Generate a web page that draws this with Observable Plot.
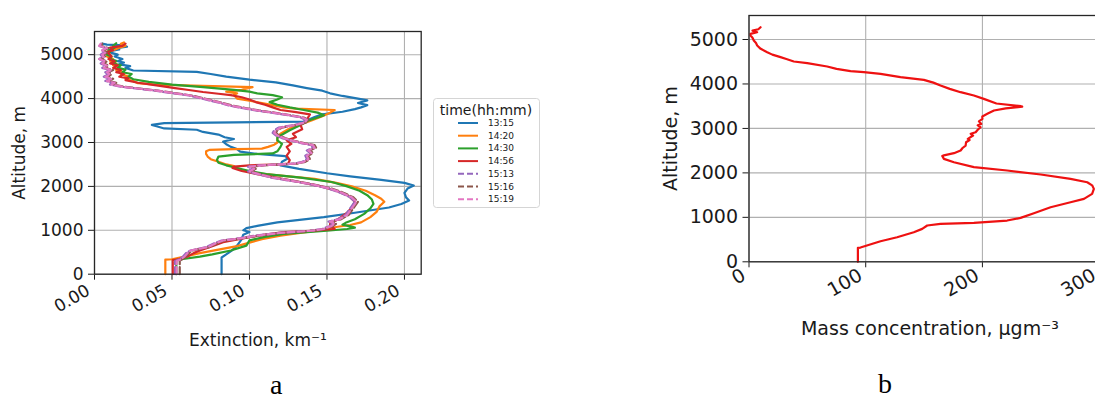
<!DOCTYPE html>
<html>
<head>
<meta charset="utf-8">
<script src="https://cdn.jsdelivr.net/npm/d3@7"></script>
<script src="https://cdn.jsdelivr.net/npm/@observablehq/plot@0.6"></script>
<style>
  html, body { margin: 0; padding: 0; background: #fff; width: 1095px; height: 400px; overflow: hidden; }
  #wrap { position: relative; width: 1095px; height: 400px; overflow: hidden; }
  .panel { position: absolute; top: 0; }
  .panel svg { max-width: none !important; }
  .letter { position: absolute; font-family: "Liberation Serif", "DejaVu Serif", serif; font-size: 28px; color: #000; line-height: 1; }
</style>
</head>
<body>
<div id="wrap">
  <div id="left" class="panel" style="left:0px;width:430px;"></div>
  <div id="legend" style="position:absolute;left:433px;top:98px;"></div>
  <div id="right" class="panel" style="left:640px;width:480px;"></div>
  <div class="letter" style="left:270px;top:371px;">a</div>
  <div class="letter" style="left:878px;top:370px;">b</div>
</div>
<script>
// ---------- tick values ----------
const altTicks = [0, 1000, 2000, 3000, 4000, 5000];
const extTicks = [0, 0.05, 0.10, 0.15, 0.20];
const massTicks = [0, 100, 200, 300];

// ---------- legend ----------
const seriesNames = ["13:15", "14:20", "14:30", "14:56", "15:13", "15:16", "15:19"];
const seriesColors = ["#1f77b4", "#ff7f0e", "#2ca02c", "#d62728", "#9467bd", "#8c564b", "#e377c2"];
const seriesDashed = [false, false, false, false, true, true, true];

// ---------- panel a: extinction profiles (altitude m, extinction km^-1) ----------
const alt1315 = [0, 380, 450, 550, 650, 800, 900, 960, 1000, 1050, 1100, 1180, 1300, 1400, 1520, 1600, 1680, 1750, 1850, 1950, 2020, 2080, 2150, 2230, 2300, 2400, 2480, 2560, 2640, 2690, 2740, 2790, 2850, 2900, 2960, 3020, 3080, 3120, 3180, 3240, 3290, 3320, 3370, 3400, 3440, 3460, 3475, 3520, 3580, 3640, 3700, 3760, 3800, 3850, 3900, 3960, 4000, 4060, 4120, 4180, 4240, 4300, 4370, 4430, 4500, 4560, 4610, 4640, 4700, 4740, 4780, 4820, 4850, 4900, 4960, 5000, 5040, 5080, 5120, 5150, 5180, 5210, 5230, 5250];
const ext1315 = [0.082, 0.082, 0.085, 0.089, 0.092, 0.095, 0.096, 0.100, 0.096, 0.098, 0.105, 0.118, 0.148, 0.168, 0.190, 0.198, 0.203, 0.201, 0.200, 0.202, 0.206, 0.200, 0.185, 0.165, 0.150, 0.132, 0.120, 0.121, 0.125, 0.123, 0.105, 0.094, 0.092, 0.088, 0.085, 0.083, 0.090, 0.084, 0.080, 0.070, 0.066, 0.045, 0.040, 0.037, 0.045, 0.090, 0.135, 0.138, 0.142, 0.147, 0.160, 0.168, 0.172, 0.176, 0.170, 0.176, 0.170, 0.160, 0.152, 0.147, 0.137, 0.128, 0.117, 0.100, 0.085, 0.075, 0.066, 0.025, 0.020, 0.023, 0.016, 0.019, 0.015, 0.018, 0.013, 0.015, 0.011, 0.010, 0.016, 0.014, 0.021, 0.019, 0.008, 0.005];

const alt1420 = [0, 330, 340, 400, 480, 560, 640, 720, 800, 880, 950, 1000, 1040, 1080, 1120, 1180, 1300, 1420, 1550, 1650, 1720, 1800, 1900, 2000, 2080, 2170, 2240, 2290, 2330, 2380, 2420, 2460, 2500, 2560, 2620, 2680, 2740, 2800, 2830, 2850, 2860, 2900, 2950, 3000, 3100, 3200, 3300, 3400, 3500, 3600, 3680, 3740, 3770, 3800, 3850, 3900, 3950, 4000, 4080, 4120, 4160, 4200, 4260, 4290, 4320, 4350, 4400, 4450, 4500, 4560, 4600, 4650, 4700, 4760, 4800, 4860, 4900, 4960, 5000, 5060, 5100, 5160, 5200, 5250, 5280];
const ext1420 = [0.0457, 0.0457, 0.050, 0.058, 0.068, 0.080, 0.092, 0.100, 0.108, 0.120, 0.135, 0.145, 0.150, 0.157, 0.165, 0.172, 0.178, 0.182, 0.184, 0.187, 0.185, 0.181, 0.175, 0.166, 0.156, 0.142, 0.122, 0.107, 0.100, 0.095, 0.092, 0.090, 0.085, 0.080, 0.075, 0.073, 0.072, 0.072, 0.074, 0.090, 0.108, 0.112, 0.116, 0.118, 0.118, 0.120, 0.125, 0.132, 0.140, 0.147, 0.152, 0.155, 0.130, 0.122, 0.115, 0.108, 0.100, 0.092, 0.090, 0.092, 0.085, 0.095, 0.102, 0.070, 0.040, 0.028, 0.025, 0.020, 0.022, 0.017, 0.019, 0.014, 0.016, 0.012, 0.014, 0.010, 0.012, 0.008, 0.010, 0.007, 0.012, 0.016, 0.020, 0.017, 0.019];

const alt1430 = [0, 320, 340, 400, 450, 540, 650, 770, 850, 920, 990, 1030, 1060, 1090, 1130, 1170, 1250, 1375, 1500, 1600, 1700, 1800, 1900, 2000, 2100, 2200, 2280, 2350, 2420, 2480, 2540, 2600, 2680, 2720, 2750, 2800, 2850, 2900, 2970, 3050, 3120, 3200, 3280, 3400, 3500, 3580, 3620, 3680, 3740, 3800, 3860, 3920, 3980, 4030, 4080, 4120, 4160, 4200, 4260, 4320, 4380, 4440, 4500, 4560, 4600, 4660, 4700, 4760, 4800, 4860, 4900, 4960, 5000, 5060, 5100, 5160, 5200, 5260];
const ext1430 = [0.0528, 0.0528, 0.056, 0.068, 0.076, 0.088, 0.098, 0.100, 0.110, 0.122, 0.150, 0.163, 0.168, 0.165, 0.160, 0.162, 0.168, 0.174, 0.178, 0.180, 0.179, 0.176, 0.171, 0.163, 0.153, 0.133, 0.111, 0.100, 0.092, 0.085, 0.080, 0.079, 0.080, 0.090, 0.115, 0.118, 0.119, 0.120, 0.121, 0.118, 0.118, 0.122, 0.126, 0.133, 0.138, 0.145, 0.148, 0.144, 0.135, 0.126, 0.118, 0.113, 0.118, 0.121, 0.115, 0.105, 0.100, 0.090, 0.070, 0.050, 0.035, 0.025, 0.022, 0.024, 0.018, 0.020, 0.015, 0.017, 0.012, 0.014, 0.010, 0.011, 0.008, 0.010, 0.009, 0.013, 0.012, 0.014];

const alt1456 = [0, 320, 340, 400, 480, 540, 640, 730, 843, 900, 957, 995, 1030, 1060, 1100, 1150, 1250, 1400, 1520, 1650, 1780, 1900, 2000, 2100, 2200, 2280, 2350, 2420, 2450, 2480, 2500, 2520, 2600, 2700, 2800, 2900, 2970, 3050, 3120, 3200, 3300, 3400, 3500, 3580, 3640, 3690, 3740, 3800, 3860, 3920, 3980, 4030, 4080, 4110, 4150, 4190, 4240, 4300, 4360, 4420, 4460, 4500, 4560, 4600, 4650, 4700, 4760, 4800, 4850, 4900, 4960, 5000, 5060, 5100, 5160, 5200, 5250];
const ext1456 = [0.0505, 0.0505, 0.054, 0.060, 0.064, 0.068, 0.076, 0.083, 0.100, 0.110, 0.122, 0.143, 0.155, 0.154, 0.152, 0.152, 0.157, 0.163, 0.166, 0.168, 0.164, 0.156, 0.146, 0.132, 0.117, 0.105, 0.095, 0.089, 0.090, 0.100, 0.120, 0.125, 0.126, 0.124, 0.126, 0.124, 0.127, 0.124, 0.130, 0.128, 0.134, 0.133, 0.137, 0.138, 0.139, 0.130, 0.120, 0.115, 0.110, 0.104, 0.100, 0.095, 0.088, 0.080, 0.070, 0.062, 0.052, 0.040, 0.028, 0.020, 0.022, 0.016, 0.019, 0.014, 0.017, 0.012, 0.015, 0.010, 0.013, 0.009, 0.011, 0.010, 0.008, 0.012, 0.010, 0.018, 0.020];

const altDashed = [0, 300, 330, 400, 480, 540, 615, 700, 768, 820, 880, 940, 990, 1030, 1060, 1100, 1150, 1200, 1250, 1350, 1450, 1550, 1650, 1750, 1850, 1950, 2050, 2130, 2200, 2280, 2340, 2400, 2450, 2480, 2500, 2520, 2560, 2620, 2700, 2760, 2820, 2880, 2940, 2980, 3040, 3100, 3160, 3220, 3280, 3340, 3400, 3460, 3520, 3570, 3620, 3680, 3730, 3780, 3840, 3900, 3960, 4020, 4070, 4120, 4180, 4230, 4270, 4320, 4360, 4400, 4450, 4500, 4550, 4600, 4650, 4700, 4750, 4800, 4850, 4900, 4950, 5000, 5050, 5100, 5150, 5200, 5250];
const ext1513 = [0.052, 0.052, 0.054, 0.057, 0.059, 0.062, 0.072, 0.077, 0.082, 0.094, 0.104, 0.119, 0.139, 0.147, 0.149, 0.152, 0.154, 0.151, 0.157, 0.162, 0.164, 0.166, 0.168, 0.165, 0.159, 0.151, 0.139, 0.126, 0.114, 0.105, 0.099, 0.102, 0.099, 0.107, 0.119, 0.129, 0.134, 0.137, 0.136, 0.139, 0.137, 0.141, 0.140, 0.134, 0.127, 0.121, 0.117, 0.115, 0.116, 0.119, 0.129, 0.135, 0.136, 0.133, 0.125, 0.114, 0.104, 0.096, 0.087, 0.081, 0.074, 0.067, 0.061, 0.051, 0.039, 0.027, 0.017, 0.010, 0.012, 0.007, 0.010, 0.006, 0.009, 0.007, 0.010, 0.005, 0.007, 0.004, 0.006, 0.003, 0.005, 0.004, 0.006, 0.005, 0.007, 0.003, 0.004];
const ext1516 = [0.055, 0.055, 0.056, 0.059, 0.061, 0.063, 0.074, 0.079, 0.084, 0.096, 0.106, 0.121, 0.141, 0.149, 0.151, 0.154, 0.156, 0.153, 0.159, 0.164, 0.166, 0.168, 0.170, 0.167, 0.161, 0.153, 0.141, 0.128, 0.116, 0.107, 0.101, 0.104, 0.101, 0.109, 0.121, 0.131, 0.136, 0.139, 0.138, 0.141, 0.139, 0.143, 0.142, 0.136, 0.129, 0.123, 0.119, 0.117, 0.118, 0.121, 0.131, 0.137, 0.138, 0.135, 0.127, 0.116, 0.106, 0.098, 0.089, 0.083, 0.076, 0.069, 0.063, 0.053, 0.041, 0.029, 0.019, 0.012, 0.014, 0.009, 0.012, 0.008, 0.011, 0.009, 0.012, 0.007, 0.009, 0.006, 0.008, 0.004, 0.007, 0.006, 0.008, 0.006, 0.009, 0.004, 0.005];
const ext1519 = [0.053, 0.053, 0.055, 0.058, 0.060, 0.062, 0.073, 0.078, 0.083, 0.095, 0.105, 0.120, 0.140, 0.148, 0.150, 0.153, 0.155, 0.152, 0.158, 0.163, 0.165, 0.167, 0.169, 0.166, 0.160, 0.152, 0.140, 0.127, 0.115, 0.106, 0.100, 0.103, 0.100, 0.108, 0.120, 0.130, 0.135, 0.138, 0.137, 0.140, 0.138, 0.142, 0.141, 0.135, 0.128, 0.122, 0.118, 0.116, 0.117, 0.120, 0.130, 0.136, 0.137, 0.134, 0.126, 0.115, 0.105, 0.097, 0.088, 0.082, 0.075, 0.068, 0.062, 0.052, 0.040, 0.028, 0.018, 0.011, 0.013, 0.008, 0.011, 0.007, 0.010, 0.008, 0.011, 0.006, 0.008, 0.005, 0.007, 0.003, 0.006, 0.005, 0.007, 0.005, 0.008, 0.003, 0.004];

// ---------- panel b: mass concentration profile (altitude m, µg m^-3) ----------
const altMass = [0, 315, 320, 463, 553, 666, 741, 816, 853, 875, 928, 988, 1093, 1228, 1340, 1415, 1528, 1640, 1720, 1790, 1865, 1963, 2053, 2128, 2240, 2315, 2380, 2395, 2443, 2503, 2560, 2615, 2690, 2740, 2765, 2840, 2880, 2915, 2970, 3028, 3070, 3100, 3160, 3215, 3270, 3328, 3403, 3450, 3490, 3500, 3560, 3665, 3740, 3815, 3890, 3965, 4030, 4093, 4153, 4228, 4265, 4288, 4340, 4393, 4468, 4505, 4560, 4603, 4660, 4715, 4790, 4865, 4920, 4978, 5040, 5090, 5128, 5165, 5200, 5230, 5277];
const mass = [93.3, 93.3, 95.5, 112.7, 126.9, 141.2, 148.4, 152.7, 164, 192.7, 221.2, 232.7, 244.1, 258.4, 275.5, 287, 294, 295.5, 294, 289.8, 275.5, 250, 221.2, 192.7, 175.6, 167, 165.6, 167, 175.6, 181.3, 183, 185.6, 186, 189, 187.5, 192, 190, 194.2, 196, 198.4, 196, 199, 197, 200, 199.9, 204.2, 209.9, 220, 234.1, 233, 212, 201.2, 192.7, 181.3, 172, 164.1, 158, 149.8, 129.8, 112.7, 98.4, 87, 75, 67, 49.9, 38.4, 32, 27, 20, 15.6, 10, 7, 6, 4.1, 3, 1.3, 1.3, 7, 3, 8, 9.9];

// ---------- build tables ----------
const profiles = [
  [alt1315, ext1315], [alt1420, ext1420], [alt1430, ext1430], [alt1456, ext1456],
  [altDashed, ext1513], [altDashed, ext1516], [altDashed, ext1519]
];
const seriesRows = profiles.map(([a, e]) => a.map((alt, i) => ({alt, ext: e[i]})));
const massRows = altMass.map((alt, i) => ({alt, mass: mass[i]}));

const grid = "#b0b0b0";

function shiftTickLabels(svg, dx, dy) {
  svg.querySelectorAll('g[aria-label="x-axis tick label"]').forEach(g => {
    const t = g.getAttribute("transform") || "";
    g.setAttribute("transform", (t + ` translate(${dx},${dy})`).trim());
  });
}

// ---------- left plot ----------
const leftPlot = Plot.plot({
  width: 430, height: 360,
  marginLeft: 94, marginRight: 9.3, marginTop: 31, marginBottom: 86.3,
  x: {domain: [0, 0.2108], ticks: extTicks, tickFormat: d => d.toFixed(2), tickRotate: -30,
      tickSize: 6, tickPadding: 4, label: "Extinction, km⁻¹", labelAnchor: "center", labelOffset: 72, labelArrow: "none"},
  y: {domain: [0, 5528], ticks: altTicks, tickFormat: d => String(d), tickSize: 6, tickPadding: 5,
      label: "Altitude, m", labelAnchor: "center", labelOffset: 82, labelArrow: "none"},
  style: {fontFamily: "DejaVu Sans", fontSize: "17px", color: "#1a1a1a", background: "transparent", maxWidth: "none"},
  marks: [
    Plot.ruleX(extTicks, {stroke: grid, strokeWidth: 1.1}),
    Plot.ruleY(altTicks, {stroke: grid, strokeWidth: 1.1}),
    ...seriesRows.map((rows, k) => Plot.line(rows, {
      x: "ext", y: "alt", stroke: seriesColors[k], strokeWidth: 2.2,
      strokeDasharray: seriesDashed[k] ? "7,3" : null
    })),
    Plot.frame({stroke: "#262626", strokeWidth: 1.3})
  ]
});
shiftTickLabels(leftPlot, -6, 5);
document.getElementById("left").appendChild(leftPlot);

// ---------- right plot ----------
const rightPlot = Plot.plot({
  width: 480, height: 360,
  marginLeft: 108.5, marginRight: 9.7, marginTop: 15, marginBottom: 98.7,
  x: {domain: [0, 310], ticks: massTicks, tickFormat: d => String(d), tickRotate: -30,
      tickSize: 6, tickPadding: 4, label: "Mass concentration, µgm⁻³", labelAnchor: "center", labelOffset: 73, labelArrow: "none"},
  y: {domain: [0, 5540], ticks: altTicks, tickFormat: d => String(d), tickSize: 6, tickPadding: 5,
      label: "Altitude, m", labelAnchor: "center", labelOffset: 86, labelArrow: "none"},
  style: {fontFamily: "DejaVu Sans", fontSize: "19px", color: "#1a1a1a", background: "transparent", maxWidth: "none"},
  marks: [
    Plot.ruleX(massTicks, {stroke: grid, strokeWidth: 1.1}),
    Plot.ruleY(altTicks, {stroke: grid, strokeWidth: 1.1}),
    Plot.line(massRows, {x: "mass", y: "alt", stroke: "#ee1111", strokeWidth: 2.2}),
    Plot.frame({stroke: "#262626", strokeWidth: 1.3})
  ]
});
shiftTickLabels(rightPlot, -5, 2);
document.getElementById("right").appendChild(rightPlot);

// ---------- legend ----------
const lg = d3.select("#legend").append("svg")
  .attr("width", 107).attr("height", 110)
  .style("font-family", "DejaVu Sans");
lg.append("rect").attr("x", 0.5).attr("y", 0.5).attr("width", 106).attr("height", 109)
  .attr("rx", 3).attr("fill", "#fff").attr("stroke", "#d5d5d5");
lg.append("text").attr("x", 53).attr("y", 12).attr("text-anchor", "middle")
  .attr("dominant-baseline", "central").style("font-size", "14px").attr("fill", "#1a1a1a").text("time(hh:mm)");
seriesNames.forEach((name, i) => {
  const cy = 25 + i * 12.7;
  lg.append("line").attr("x1", 25).attr("x2", 45).attr("y1", cy).attr("y2", cy)
    .attr("stroke", seriesColors[i]).attr("stroke-width", 2)
    .attr("stroke-dasharray", seriesDashed[i] ? "6,3" : null);
  lg.append("text").attr("x", 55).attr("y", cy).attr("dominant-baseline", "central")
    .style("font-size", "9px").attr("fill", "#1a1a1a").text(name);
});
</script>
</body>
</html>
